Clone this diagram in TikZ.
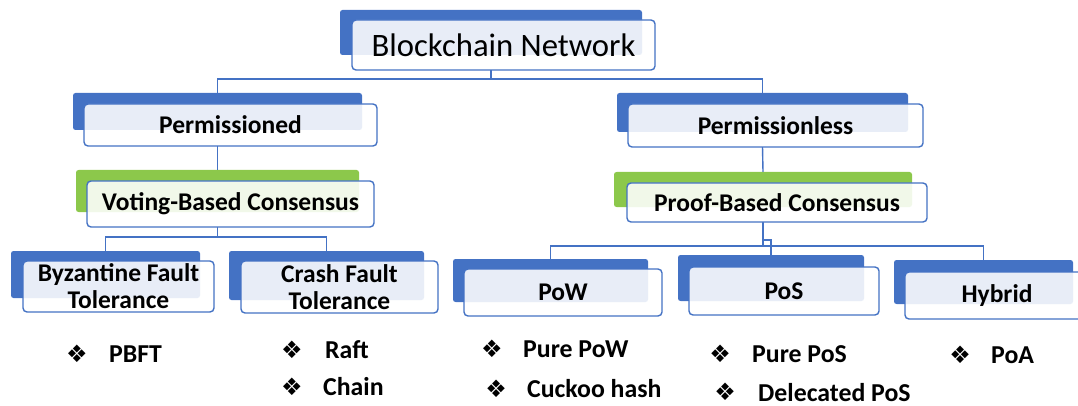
\documentclass[tikz,border=0pt]{standalone}
\usepackage{fontspec}
\setmainfont{Carlito}
\newfontfamily\dejavu{DejaVu Sans}
\definecolor{bblue}{HTML}{4472C4}
\definecolor{bgreen}{HTML}{8CC84B}
\begin{document}
\begin{tikzpicture}[x=1pt,y=-1pt,
 back/.style={fill=bblue, rounded corners=2.5pt, inner sep=0pt},
 backg/.style={back, fill=bgreen},
 front/.style={draw=bblue, line width=1.4pt, fill=white, fill opacity=0.88, text opacity=1, rounded corners=4pt, inner sep=0pt, font=\bfseries\fontsize{25.5}{27}\selectfont, align=center},
 conn/.style={draw=bblue, line width=1.4pt},
 bul/.style={font=\dejavu\fontsize{24}{24}\selectfont, inner sep=0pt},
 item/.style={anchor=base west, inner sep=0pt, font=\bfseries\fontsize{25.8}{27}\selectfont}]
\clip (0,0) rectangle (1078,406);
% back rectangles
\node[back, minimum width=302pt, minimum height=45pt] (rootB) at (491,32.5) {};
\node[back, minimum width=289pt, minimum height=37pt] (permB) at (217.5,111.5) {};
\node[backg, minimum width=283pt, minimum height=42pt] (voteB) at (217.5,191) {};
\node[back, minimum width=189pt, minimum height=47pt] (byzB) at (105.5,274.5) {};
\node[back, minimum width=195pt, minimum height=49pt] (crashB) at (326.5,275.5) {};
\node[back, minimum width=291pt, minimum height=39pt] (plessB) at (762.5,112.5) {};
\node[backg, minimum width=298pt, minimum height=35pt] (proofB) at (763,189.5) {};
\node[back, minimum width=195pt, minimum height=43pt] (powB) at (550.5,280.5) {};
\node[back, minimum width=186pt, minimum height=46pt] (posB) at (771,278) {};
\node[back, minimum width=179pt, minimum height=44pt] (hybB) at (983.5,282) {};
% coordinates
\coordinate (j0) at (491,79);
\coordinate (j1) at (217.5,237);
\coordinate (j2) at (763,246);
\coordinate (j3) at (763,240);
\coordinate (j4) at (771,240);
% connectors
\draw[conn] (rootB.center |- 0,70) -- (j0);
\draw[conn] (permB.north) -- (permB.north |- j0) -- (plessB.north |- j0) -- (plessB.north);
\draw[conn] (permB.center |- 0,146) -- (voteB.north);
\draw[conn] (j1 |- 0,227) -- (j1);
\draw[conn] (byzB.north) -- (byzB.north |- j1) -- (crashB.north |- j1) -- (crashB.north);
\draw[conn] (plessB.center |- 0,147) -- (proofB.north);
\draw[conn] (j2 |- 0,222) -- (j2);
\draw[conn] (powB.north) -- (powB.north |- j2) -- (hybB.north |- j2) -- (hybB.north);
\draw[conn] (j3) -- (j4) -- (posB.north);
% front boxes
\node[front, minimum width=303pt, minimum height=50pt, font=\fontsize{32.7}{36}\selectfont] (root) at (503.5,45) {Blockchain Network};
\node[front, minimum width=293pt, minimum height=42pt] (perm) at (230.5,125) {Permissioned};
\node[front, minimum width=287pt, minimum height=46pt] (vote) at (230.5,204) {Voting-Based Consensus};
\node[front, minimum width=191pt, minimum height=51pt] (byz) at (118.5,286.5) {Byzantine Fault\\Tolerance};
\node[front, minimum width=197pt, minimum height=52pt] (crash) at (339.5,287) {Crash Fault\\Tolerance};
\node[front, minimum width=295pt, minimum height=43pt] (pless) at (775.5,125.5) {Permissionless};
\node[front, minimum width=300pt, minimum height=39pt] (proof) at (777,202.5) {Proof-Based Consensus};
\node[front, minimum width=198pt, minimum height=47pt] (pow) at (563,292.5) {PoW};
\node[front, minimum width=190pt, minimum height=48pt] (pos) at (784,291) {PoS};
\node[front, minimum width=184pt, minimum height=47pt] (hyb) at (997,295.5) {Hybrid};
% bullet items
\node[bul] (b1) at (77,354) {❖};
\node[item] (t1) at (109,362) {PBFT};
\node[bul] (b2) at (292,350) {❖};
\node[item] (t2) at (325,358) {Raft};
\node[bul] (b3) at (292,387) {❖};
\node[item] (t3) at (323,395) {Chain};
\node[bul] (b4) at (492,349) {❖};
\node[item] (t4) at (523,357) {Pure PoW};
\node[bul] (b5) at (496,389) {❖};
\node[item] (t5) at (527,397) {Cuckoo hash};
\node[bul] (b6) at (720,354) {❖};
\node[item] (t6) at (752,362) {Pure PoS};
\node[bul] (b7) at (725,392) {❖};
\node[item] (t7) at (758,401) {Delecated PoS};
\node[bul] (b8) at (960,355) {❖};
\node[item] (t8) at (991,363) {PoA};
\end{tikzpicture}
\end{document}
